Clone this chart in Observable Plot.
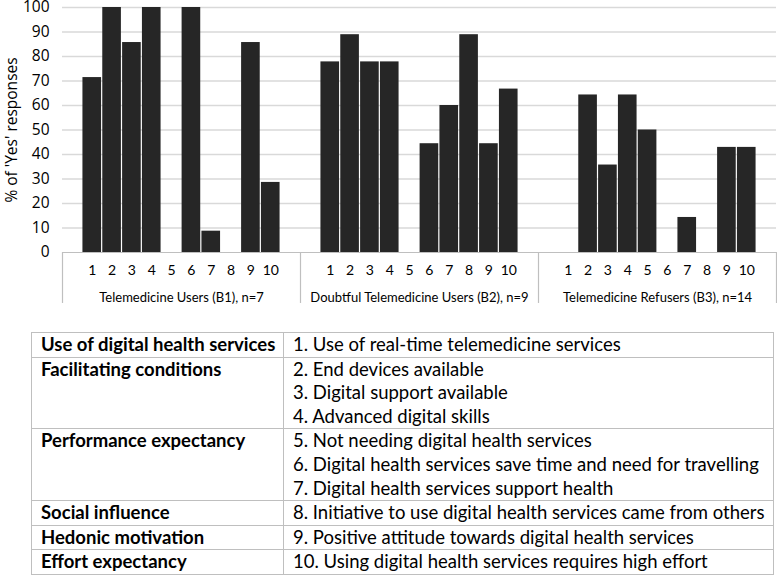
<!DOCTYPE html>
<html>
<head>
<meta charset="utf-8">
<script src="https://cdn.jsdelivr.net/npm/d3@7"></script>
<script src="https://cdn.jsdelivr.net/npm/@observablehq/plot@0.6"></script>
<style>
  html, body { margin: 0; padding: 0; background: #fff; }
  #chart svg { display: block; }
  table.legend {
    border-collapse: collapse;
    margin: 22px 0 0 31px;
    width: 743px;
    font-family: Lato, "Open Sans", sans-serif;
    font-size: 18.5px;
    color: #000;
  }
  table.legend td {
    border: 1px solid #bfbfbf;
    padding: 0 0 0 9px;
    line-height: 23.6px;
    vertical-align: top;
  }
  table.legend td div { height: 23.6px; }
  table.legend td.c { font-weight: bold; width: 242px; }
</style>
</head>
<body>
<div id="chart"></div>
<div id="legend"></div>
<script>
// ---- data ----
const groups = [
  "Telemedicine Users (B1), n=7",
  "Doubtful Telemedicine Users (B2), n=9",
  "Telemedicine Refusers (B3), n=14"
];
const items = ["1", "2", "3", "4", "5", "6", "7", "8", "9", "10"];
const b1 = [71.4, 100, 85.7, 100, 0, 100, 8.7, 0, 85.7, 28.6];
const b2 = [77.8, 88.9, 77.8, 77.8, 0, 44.4, 60, 88.9, 44.4, 66.7];
const b3 = [0, 64.3, 35.7, 64.3, 50, 0, 14.3, 0, 42.9, 42.9];
const yTicks = [0, 10, 20, 30, 40, 50, 60, 70, 80, 90, 100];
const yTitle = "% of 'Yes' responses";

const constructs = [
  "Use of digital health services",
  "Facilitating conditions",
  "Performance expectancy",
  "Social influence",
  "Hedonic motivation",
  "Effort expectancy"
];
const constructItems = [[1], [2, 3, 4], [5, 6, 7], [8], [9], [10]];
const itemTexts = [
  "Use of real-time telemedicine services",
  "End devices available",
  "Digital support available",
  "Advanced digital skills",
  "Not needing digital health services",
  "Digital health services save time and need for travelling",
  "Digital health services support health",
  "Initiative to use digital health services came from others",
  "Positive attitude towards digital health services",
  "Using digital health services requires high effort"
];

// ---- table of rows (12 slots per group: padding slot, 10 items, padding slot) ----
const per = items.length + 2;
const rows = [];
[b1, b2, b3].forEach((vals, g) =>
  vals.forEach((v, i) => rows.push({group: groups[g], item: items[i], pos: g * per + 1 + i, value: v}))
);
const groupEdges = d3.range(groups.length + 1).map(g => g * per);

const chart = Plot.plot({
  width: 777,
  height: 310,
  marginTop: 7,
  marginBottom: 58,
  marginLeft: 62,
  marginRight: 1,
  style: {fontFamily: "Lato, 'Open Sans', sans-serif", fontSize: "14px", color: "#000", background: "#fff"},
  x: {type: "linear", domain: [0, groups.length * per], axis: null},
  y: {domain: [0, 100], axis: null},
  marks: [
    Plot.ruleY(yTicks.filter(t => t > 0), {stroke: "#d9d9d9", strokeWidth: 1.5}),
    Plot.rectY(rows.filter(d => d.value > 0), {
      x1: d => d.pos, x2: d => d.pos + 1, y: "value",
      fill: "#262626", insetLeft: 0.6, insetRight: 0.6
    }),
    Plot.ruleY([0], {stroke: "#bfbfbf", strokeWidth: 1.2}),
    Plot.ruleX(groupEdges, {y1: 0, y2: -20.8, stroke: "#bfbfbf", strokeWidth: 1.2}),
    Plot.text(rows, {x: d => d.pos + 0.5, y: 0, text: "item", dy: 18, fontSize: 14, fill: "#000"}),
    Plot.text(groups, {x: (d, i) => i * per + per / 2, y: 0, text: d => d, dy: 45, fontSize: 13, fill: "#000"}),
    Plot.axisY(yTicks, {
      tickSize: 0, tickPadding: 13, fontSize: 15.5, fontFamily: "Open Sans",
      label: null
    }),
    Plot.text([yTitle], {
      frameAnchor: "left", textAnchor: "middle", rotate: -90, dx: -50, text: d => d,
      fontSize: 15.5, fontFamily: "Open Sans", fill: "#000"
    })
  ]
});
document.getElementById("chart").appendChild(chart);

// ---- legend table ----
const table = d3.select("#legend").append("table").attr("class", "legend");
constructs.forEach((c, k) => {
  const tr = table.append("tr");
  tr.append("td").attr("class", "c").text(c);
  const td = tr.append("td");
  constructItems[k].forEach(n => td.append("div").text(n + ". " + itemTexts[n - 1]));
});
</script>
</body>
</html>
